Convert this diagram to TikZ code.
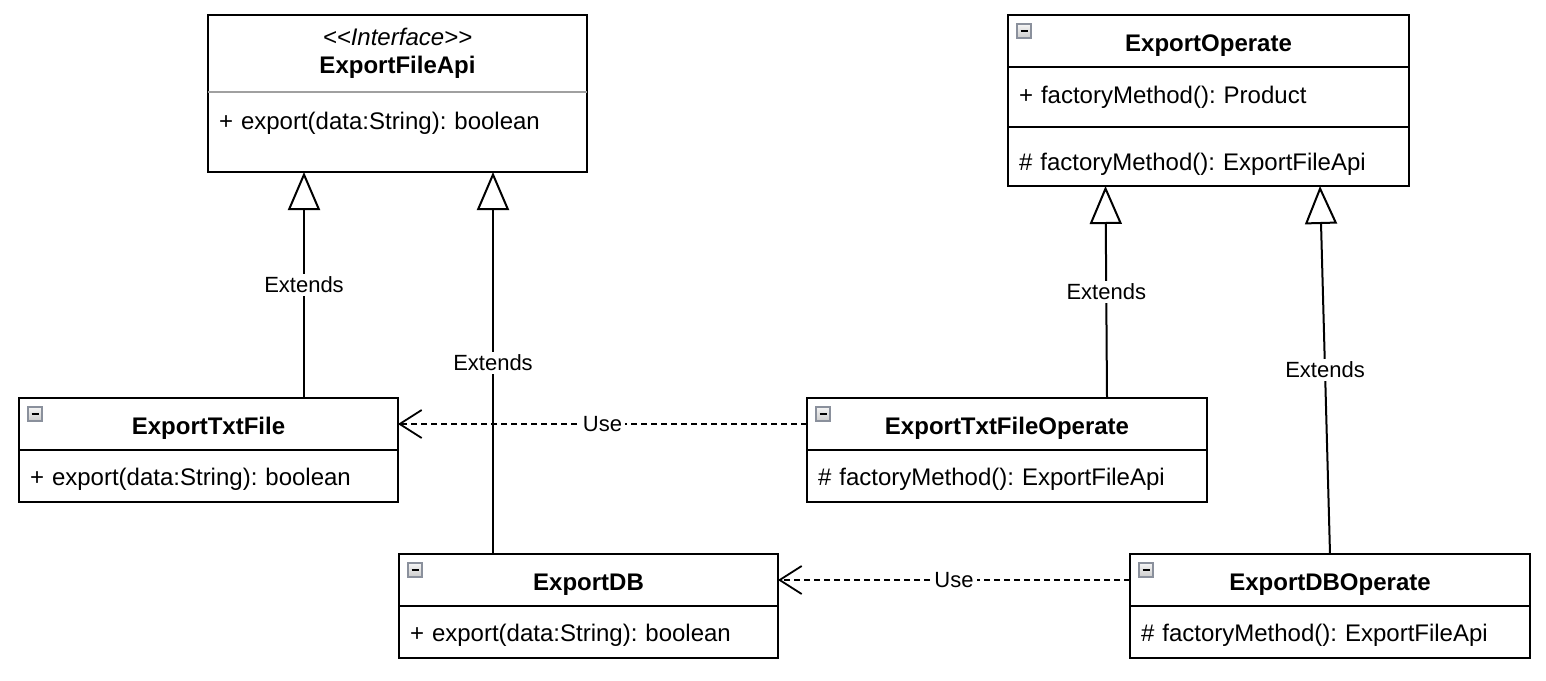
\documentclass[tikz,border=0pt]{standalone}
\usepackage{fontspec}
\setmainfont{Liberation Sans}
\usetikzlibrary{positioning,arrows.meta}

\definecolor{iconedge}{HTML}{8A909C}
\definecolor{sepgray}{HTML}{A0A0A0}
\frenchspacing

\begin{document}
\begin{tikzpicture}[
    x=0.5pt, y=-0.5pt,
    font=\fontsize{12}{14}\selectfont,
    classhead/.style={
        draw,
        line width=1pt,
        outer sep=0pt,
        inner sep=0pt,
        anchor=north west,
        align=center,
        minimum width=#1,
        minimum height=26pt,
        font=\fontsize{12}{14}\selectfont\bfseries
    },
    classname/.style={
        classhead=#1,
        text height=11pt,
        text depth=0.5pt
    },
    classrow/.style={
        draw,
        line width=1pt,
        outer sep=0pt,
        inner xsep=5.5pt,
        inner ysep=0pt,
        text width=#1,
        align=left,
        text height=10.5pt,
        text depth=1.5pt,
        minimum height=26pt
    },
    extends/.style={-{Triangle[open, length=19pt, width=16pt]}, line width=1pt},
    uses/.style={-{Straight Barb[length=11pt, width=14pt]}, line width=0.9pt, dash pattern=on 3pt off 2pt},
    edgelabel/.style={fill=white, inner sep=1.5pt, font=\fontsize{11}{13}\selectfont},
    collapse/.pic={
        \draw[draw=iconedge, line width=0.7pt, top color=gray!8, bottom color=gray!40] (0,0) rectangle (14,14);
        \draw[line width=1.4pt] (3.5,7) -- (10.5,7);
    }
]
\useasboundingbox[fill=white] (0,0) rectangle (1546,680);

% Interface
\node[classhead=189.5pt, minimum height=38.5pt] (api) at (208,15)
    {{\normalfont\itshape <\kern0pt<Interface>\kern0pt>}\\ExportFileApi};
\node[classrow=178.5pt, below=0pt of api, text height=9pt, text depth=12pt, inner ysep=9.5pt] (api_body)
    {+ export(data:String): boolean};
\draw[sepgray, line width=1pt] (api.south west) -- (api.south east);

% Creator
\node[classname=200.5pt] (op) at (1008,15) {ExportOperate};
\node[classrow=189.5pt, below=0pt of op, minimum height=30pt, text height=9pt, text depth=3pt] (op_attr)
    {+ factoryMethod(): Product};
\node[classrow=189.5pt, below=0pt of op_attr, minimum height=29.5pt, text height=14pt, text depth=0.5pt] (op_meth)
    {\# factoryMethod(): ExportFileApi};

% Products
\node[classname=189.5pt] (txt) at (19,398) {ExportTxtFile};
\node[classrow=178.5pt, below=0pt of txt] (txt_body) {+ export(data:String): boolean};

\node[classname=189.5pt] (db) at (399,554) {ExportDB};
\node[classrow=178.5pt, below=0pt of db] (db_body) {+ export(data:String): boolean};

% Concrete creators
\node[classname=200pt] (txtop) at (807,398) {ExportTxtFileOperate};
\node[classrow=189pt, below=0pt of txtop] (txtop_body) {\# factoryMethod(): ExportFileApi};

\node[classname=200pt] (dbop) at (1130,554) {ExportDBOperate};
\node[classrow=189pt, below=0pt of dbop] (dbop_body) {\# factoryMethod(): ExportFileApi};

% Collapse icons
\foreach \cls in {op, txt, db, txtop, dbop}
    \pic at ([xshift=4.5pt, yshift=-4.5pt]\cls.north west) {collapse};

% Extends
\draw[extends] ([xshift=47.75pt]txt.north) -- ([xshift=47.75pt]txt.north |- api_body.south)
    node[edgelabel, midway] {Extends};
\draw[extends] ([xshift=-47.75pt]db.north) -- ([xshift=-47.75pt]db.north |- api_body.south)
    node[edgelabel, midway] {Extends};
\draw[extends] ([xshift=50pt]txtop.north) -- ([xshift=-51.5pt]op_meth.south)
    node[edgelabel, midway] {Extends};
\draw[extends] (dbop.north) -- ([xshift=55.75pt]op_meth.south)
    node[edgelabel, midway] {Extends};

% Use
\draw[uses] (txtop.west) -- (txt.east) node[edgelabel, midway] {Use};
\draw[uses] (dbop.west) -- (db.east) node[edgelabel, midway] {Use};

\end{tikzpicture}
\end{document}
